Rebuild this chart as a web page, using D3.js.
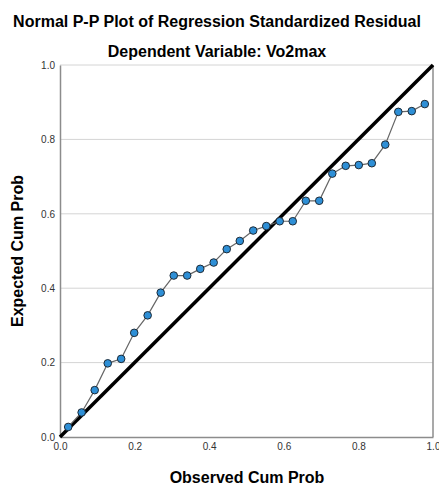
<!DOCTYPE html>
<html>
<head>
<meta charset="utf-8">
<script src="https://cdn.jsdelivr.net/npm/d3@7"></script>
<style>
  body { margin: 0; background: #fff; }
  text { font-family: "Liberation Sans", Arial, sans-serif; }
</style>
</head>
<body>
<div id="chart"></div>
<script>
// observed cumulative probability (x) and expected cumulative probability (y)
var observed = [0.022, 0.058, 0.093, 0.128, 0.164, 0.199, 0.235, 0.270, 0.305, 0.341,
                0.376, 0.412, 0.447, 0.482, 0.518, 0.553, 0.589, 0.624, 0.659, 0.695,
                0.730, 0.766, 0.801, 0.836, 0.872, 0.907, 0.943, 0.978];
var expected = [0.027, 0.066, 0.126, 0.198, 0.210, 0.280, 0.327, 0.388, 0.434, 0.434,
                0.452, 0.469, 0.505, 0.527, 0.555, 0.567, 0.580, 0.580, 0.635, 0.635,
                0.708, 0.729, 0.731, 0.736, 0.786, 0.874, 0.876, 0.895];
var ticks = [0, 0.2, 0.4, 0.6, 0.8, 1.0];
var gridTicks = [0.2, 0.4, 0.6, 0.8, 1.0];

var W = 439, H = 485;
var margin = {top: 65, right: 6, bottom: 48, left: 60},
    width = W - margin.left - margin.right,
    height = H - margin.top - margin.bottom;

var data = observed.map(function(d, i) { return {x: d, y: expected[i]}; });

var svg = d3.select("#chart").append("svg")
  .attr("width", W)
  .attr("height", H);

svg.append("text")
  .attr("x", 217).attr("y", 27)
  .attr("text-anchor", "middle")
  .style("font-size", "16px").style("font-weight", "bold")
  .text("Normal P-P Plot of Regression Standardized Residual");

svg.append("text")
  .attr("x", 217).attr("y", 57)
  .attr("text-anchor", "middle")
  .style("font-size", "16px").style("font-weight", "bold")
  .text("Dependent Variable: Vo2max");

var g = svg.append("g")
  .attr("transform", "translate(" + margin.left + "," + margin.top + ")");

var x = d3.scaleLinear().domain([0, 1]).range([0, width]);
var y = d3.scaleLinear().domain([0, 1]).range([height, 0]);

// gridlines
g.selectAll(".grid").data(gridTicks).enter().append("line")
  .attr("x1", 0).attr("x2", width)
  .attr("y1", d => y(d)).attr("y2", d => y(d))
  .attr("stroke", "#d4d4d4").attr("stroke-width", 1);

// right border
g.append("line")
  .attr("x1", width).attr("x2", width)
  .attr("y1", 0).attr("y2", height)
  .attr("stroke", "#8c8c8c").attr("stroke-width", 1.5);

var xAxis = g.append("g")
  .attr("transform", "translate(0," + height + ")")
  .call(d3.axisBottom(x).tickValues(ticks).tickFormat(d3.format(".1f")).tickSize(0).tickPadding(6));
var yAxis = g.append("g")
  .call(d3.axisLeft(y).tickValues(ticks).tickFormat(d3.format(".1f")).tickSize(0).tickPadding(5));

[xAxis, yAxis].forEach(function(a) {
  a.select(".domain").attr("stroke", "#8c8c8c").attr("stroke-width", 1.5);
  a.selectAll("text").style("font-size", "10px").attr("fill", "#333")
    .style("font-family", "'Liberation Sans', Arial, sans-serif");
});

// reference diagonal
g.append("line")
  .attr("x1", x(0)).attr("y1", y(0))
  .attr("x2", x(1)).attr("y2", y(1))
  .attr("stroke", "#000").attr("stroke-width", 3.5);

// connecting line
g.append("path")
  .datum(data)
  .attr("fill", "none")
  .attr("stroke", "#666")
  .attr("stroke-width", 1.2)
  .attr("d", d3.line().x(d => x(d.x)).y(d => y(d.y)));

g.selectAll(".pt").data(data).enter().append("circle")
  .attr("cx", d => x(d.x)).attr("cy", d => y(d.y))
  .attr("r", 3.8)
  .attr("fill", "#2e8fd6")
  .attr("stroke", "#1d2a36").attr("stroke-width", 1);

svg.append("text")
  .attr("x", 247).attr("y", 483)
  .attr("text-anchor", "middle")
  .style("font-size", "16px").style("font-weight", "bold")
  .text("Observed Cum Prob");

svg.append("text")
  .attr("transform", "translate(23,251) rotate(-90)")
  .attr("text-anchor", "middle")
  .style("font-size", "16px").style("font-weight", "bold")
  .text("Expected Cum Prob");
</script>
</body>
</html>
